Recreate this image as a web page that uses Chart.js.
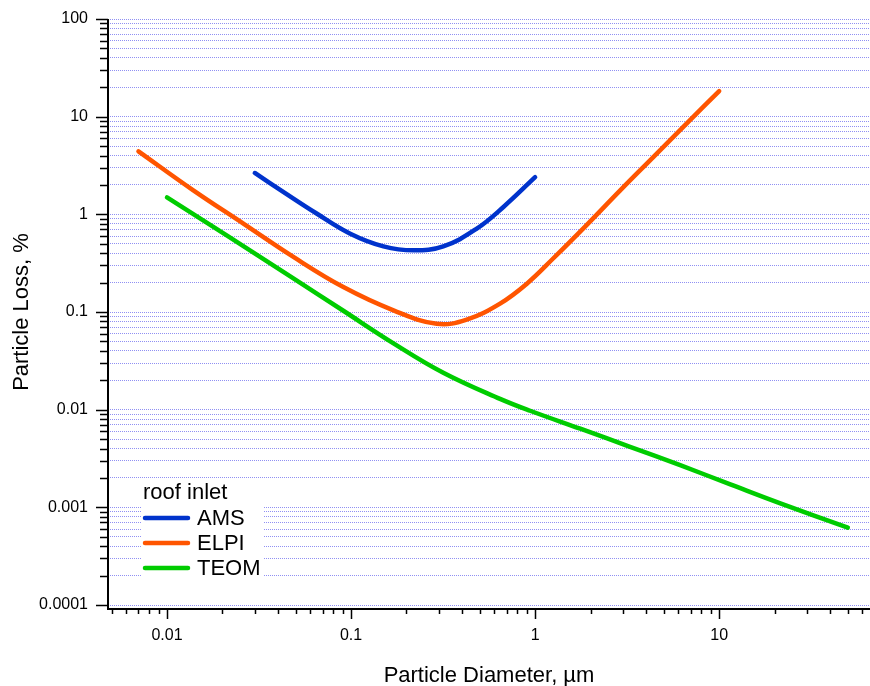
<!DOCTYPE html>
<html>
<head>
<meta charset="utf-8">
<title>Particle Loss</title>
<script src="https://cdn.jsdelivr.net/npm/chart.js@4.4.1/dist/chart.umd.min.js"></script>
<style>
  body { margin: 0; background: #fff; }
  #wrap { width: 870px; height: 686px; }
</style>
</head>
<body>
<div id="wrap"><canvas id="lossChart" width="870" height="686"></canvas></div>
<script>
// particle diameter (µm) vs loss (%)
const amsDiam = [0.030, 0.043, 0.065, 0.099, 0.150, 0.218, 0.317, 0.482, 0.673, 1.0];
const amsLoss = [2.65, 1.69, 1.02, 0.634, 0.470, 0.428, 0.470, 0.714, 1.19, 2.40];

const elpiDiam = [0.007, 0.0139, 0.026, 0.0486, 0.0908, 0.170, 0.292, 0.425, 0.645, 0.902, 1.257, 1.91, 2.90, 4.40, 6.67, 10];
const elpiLoss = [4.42, 1.76, 0.803, 0.366, 0.180, 0.104, 0.0757, 0.0836, 0.122, 0.195, 0.355, 0.781, 1.76, 3.88, 8.54, 18.3];

const teomDiam = [0.01, 0.0211, 0.0486, 0.0908, 0.170, 0.317, 0.645, 0.939, 1.76, 3.28, 6.14, 11.5, 21.5, 50];
const teomLoss = [1.49, 0.610, 0.221, 0.103, 0.0478, 0.0239, 0.0129, 0.00975, 0.00638, 0.00417, 0.00270, 0.00172, 0.00110, 0.00062];

const seriesNames = ['AMS', 'ELPI', 'TEOM'];
const seriesColors = ['#0033cc', '#ff5500', '#00cc00'];
const legendTitle = 'roof inlet';

const yMajorTicks = [0.0001, 0.001, 0.01, 0.1, 1, 10, 100];
const yTickLabels = ['0.0001', '0.001', '0.01', '0.1', '1', '10', '100'];
const xMajorTicks = [0.01, 0.1, 1, 10];
const xTickLabels = ['0.01', '0.1', '1', '10'];
const minorSteps = [2, 3, 4, 5, 6, 7, 8, 9];

const xMin = 0.00478, xMax = 66;
const yMin = 0.0001, yMax = 100;

const fontFamily = "'Liberation Sans', Arial, sans-serif";
const gridColor = 'rgba(70, 70, 235, 0.6)';

function toPoints(xs, ys) {
  return xs.map((x, i) => ({ x: x, y: ys[i] }));
}

// majors plus 2..9 minors in every decade, kept inside the axis range
function logTicks(majors, min, max) {
  const out = [];
  const decades = [majors[0] / 10].concat(majors);
  decades.forEach(d => {
    if (d >= min && d <= max) out.push({ value: d, major: majors.includes(d) });
    minorSteps.forEach(s => {
      const v = d * s;
      if (v >= min && v <= max) out.push({ value: v, major: false });
    });
  });
  return out;
}

function labelFor(majors, labels) {
  return value => {
    const k = majors.indexOf(value);
    return k >= 0 ? labels[k] : '';
  };
}

// axis lines, tick marks and the legend box
const axisDecor = {
  id: 'axisDecor',
  afterDraw(chart) {
    const { ctx, chartArea: a, scales: { x, y } } = chart;
    const axisY = a.bottom + 4;
    ctx.save();
    ctx.strokeStyle = '#000';
    ctx.lineWidth = 2;
    ctx.beginPath();
    ctx.moveTo(a.left, a.top);
    ctx.lineTo(a.left, axisY);
    ctx.lineTo(a.right, axisY);
    ctx.stroke();

    ctx.lineWidth = 1.5;
    ctx.beginPath();
    y.ticks.forEach(t => {
      const py = Math.round(y.getPixelForValue(t.value)) + 0.5;
      ctx.moveTo(a.left, py);
      ctx.lineTo(a.left - (t.major ? 12 : 8), py);
    });
    x.ticks.forEach(t => {
      const px = Math.round(x.getPixelForValue(t.value)) + 0.5;
      ctx.moveTo(px, axisY);
      ctx.lineTo(px, axisY + (t.major ? 10 : 5));
    });
    ctx.stroke();

    // legend
    const lx = 141, ly = 479;
    ctx.fillStyle = '#fff';
    ctx.fillRect(lx, ly, 122, 100);
    ctx.fillStyle = '#000';
    ctx.font = '22px ' + fontFamily;
    ctx.textBaseline = 'middle';
    ctx.textAlign = 'left';
    ctx.fillText(legendTitle, lx + 2, ly + 14);
    chart.data.datasets.forEach((ds, i) => {
      const cy = ly + 39 + i * 25;
      ctx.strokeStyle = ds.borderColor;
      ctx.lineWidth = 4.5;
      ctx.lineCap = 'round';
      ctx.beginPath();
      ctx.moveTo(lx + 4, cy);
      ctx.lineTo(lx + 47, cy);
      ctx.stroke();
      ctx.fillText(ds.label, lx + 56, cy + 1);
    });
    ctx.restore();
  }
};

const ctx = document.getElementById('lossChart').getContext('2d');
const lossChart = new Chart(ctx, {
  type: 'line',
  data: {
    datasets: [
      { label: seriesNames[0], data: toPoints(amsDiam, amsLoss), borderColor: seriesColors[0] },
      { label: seriesNames[1], data: toPoints(elpiDiam, elpiLoss), borderColor: seriesColors[1] },
      { label: seriesNames[2], data: toPoints(teomDiam, teomLoss), borderColor: seriesColors[2] }
    ]
  },
  options: {
    responsive: false,
    animation: false,
    layout: { padding: { top: 19, right: 0, left: 0, bottom: 0 } },
    plugins: {
      legend: { display: false },
      tooltip: { enabled: false }
    },
    elements: {
      point: { radius: 0 },
      line: {
        borderWidth: 4.5,
        tension: 0.4,
        borderCapStyle: 'round',
        borderJoinStyle: 'round',
        fill: false
      }
    },
    scales: {
      x: {
        type: 'logarithmic',
        position: 'bottom',
        min: xMin,
        max: xMax,
        afterBuildTicks: s => { s.ticks = logTicks(xMajorTicks, xMin, xMax); },
        afterFit: s => { s.height = 81; s.paddingLeft = 0; s.paddingRight = 0; },
        grid: { display: false, drawTicks: false },
        border: { display: false },
        ticks: {
          autoSkip: false,
          maxRotation: 0,
          padding: 21,
          color: '#000',
          font: { family: fontFamily, size: 16 },
          callback: labelFor(xMajorTicks, xTickLabels)
        },
        title: {
          display: true,
          text: 'Particle Diameter, µm',
          color: '#000',
          font: { family: fontFamily, size: 22, lineHeight: 1 },
          padding: { top: 0, bottom: -1 }
        }
      },
      y: {
        type: 'logarithmic',
        position: 'left',
        min: yMin,
        max: yMax,
        afterBuildTicks: s => { s.ticks = logTicks(yMajorTicks, yMin, yMax); },
        afterFit: s => { s.width = 108; s.paddingTop = 0; s.paddingBottom = 0; },
        grid: { color: gridColor, lineWidth: 1, drawTicks: false },
        border: { display: false, dash: [1, 1] },
        ticks: {
          autoSkip: false,
          padding: 20,
          color: '#000',
          font: { family: fontFamily, size: 16 },
          callback: labelFor(yMajorTicks, yTickLabels)
        },
        title: {
          display: true,
          text: 'Particle Loss, %',
          color: '#000',
          font: { family: fontFamily, size: 22, lineHeight: 1 },
          padding: { top: 11, bottom: 0 }
        }
      }
    }
  },
  plugins: [axisDecor]
});
</script>
</body>
</html>
